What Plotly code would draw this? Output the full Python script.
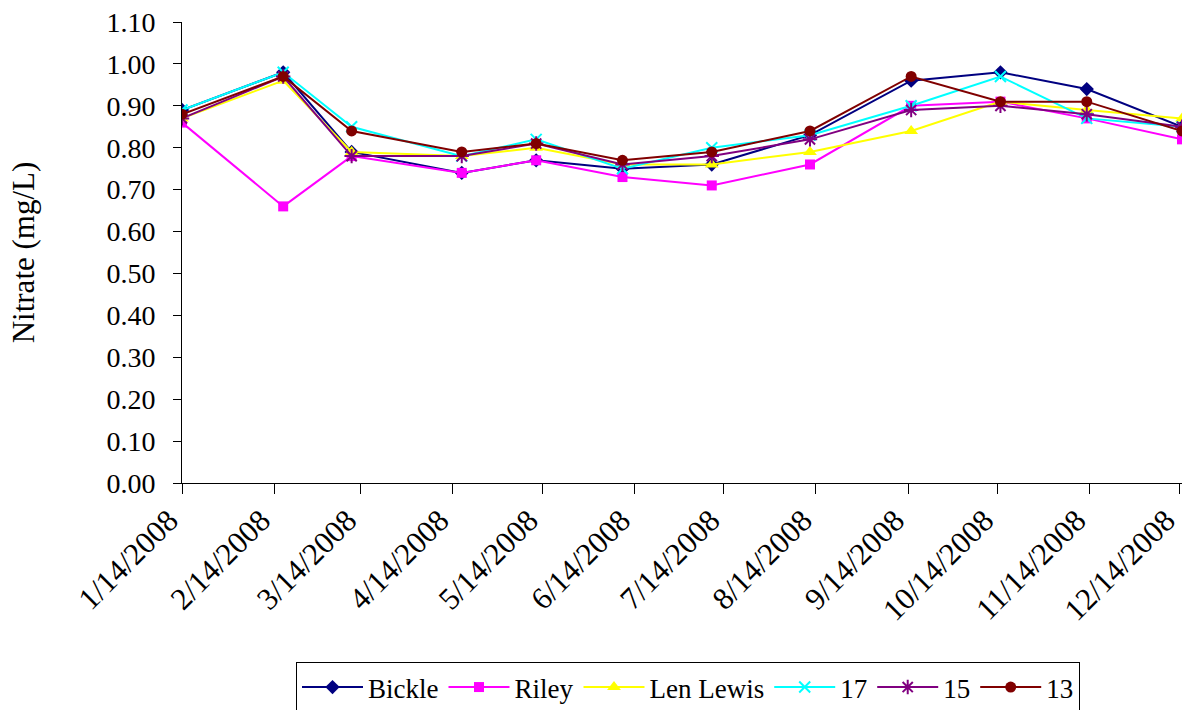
import plotly.graph_objects as go

# Sampling dates (2008) and nitrate concentrations (mg/L) per site
dates = ["2008-01-14", "2008-02-17", "2008-03-11", "2008-04-17", "2008-05-12", "2008-06-10",
         "2008-07-10", "2008-08-12", "2008-09-15", "2008-10-15", "2008-11-13", "2008-12-15"]

bickle    = [0.89, 0.98, 0.79, 0.74, 0.77, 0.75, 0.76, 0.83, 0.96, 0.98, 0.94, 0.85]
riley     = [0.86, 0.66, 0.78, 0.74, 0.77, 0.73, 0.71, 0.76, 0.90, 0.91, 0.87, 0.82]
len_lewis = [0.87, 0.96, 0.79, 0.78, 0.80, 0.76, 0.76, 0.79, 0.84, 0.91, 0.89, 0.87]
site_17   = [0.89, 0.98, 0.85, 0.78, 0.82, 0.75, 0.80, 0.83, 0.90, 0.97, 0.87, 0.85]
site_15   = [0.87, 0.97, 0.78, 0.78, 0.81, 0.76, 0.78, 0.82, 0.89, 0.90, 0.88, 0.85]
site_13   = [0.88, 0.97, 0.84, 0.79, 0.81, 0.77, 0.79, 0.84, 0.97, 0.91, 0.91, 0.84]

tick_dates = ["2008-01-14", "2008-02-14", "2008-03-14", "2008-04-14", "2008-05-14", "2008-06-14",
              "2008-07-14", "2008-08-14", "2008-09-14", "2008-10-14", "2008-11-14", "2008-12-14"]
tick_labels = ["1/14/2008", "2/14/2008", "3/14/2008", "4/14/2008", "5/14/2008", "6/14/2008",
               "7/14/2008", "8/14/2008", "9/14/2008", "10/14/2008", "11/14/2008", "12/14/2008"]

FONT = "Liberation Serif, Times New Roman, serif"

series = [
    ("Bickle", bickle, "#000080", dict(symbol="diamond", size=11, color="#000080")),
    ("Riley", riley, "#FF00FF", dict(symbol="square", size=10, color="#FF00FF")),
    ("Len Lewis", len_lewis, "#FFFF00", dict(symbol="triangle-up", size=12, color="#FFFF00")),
    ("17", site_17, "#00FFFF", dict(symbol="x-thin-open", size=11, color="#00FFFF",
                                     line=dict(color="#00FFFF", width=2))),
    ("15", site_15, "#800080", dict(symbol="asterisk-open", size=12, color="#800080",
                                     line=dict(color="#800080", width=2))),
    ("13", site_13, "#800000", dict(symbol="circle", size=11, color="#800000")),
]

fig = go.Figure()
for name, vals, color, marker in series:
    fig.add_trace(go.Scatter(
        x=dates, y=vals, name=name, mode="lines+markers",
        line=dict(color=color, width=2), marker=marker,
    ))

fig.update_layout(
    width=1191, height=710,
    margin=dict(l=182, r=9, t=22, b=227, autoexpand=False),
    paper_bgcolor="white", plot_bgcolor="white",
    font=dict(family=FONT, size=27, color="black"),
    showlegend=True,
    legend=dict(
        orientation="h", xref="container", yref="container",
        x=296 / 1191, y=(710 - 662) / 710, xanchor="left", yanchor="top",
        bordercolor="black", borderwidth=1, itemwidth=61,
        font=dict(family=FONT, size=27, color="black"),
        tracegroupgap=0,
    ),
    xaxis=dict(
        type="date", range=["2008-01-14", "2008-12-15"],
        tickmode="array", tickvals=tick_dates, ticktext=tick_labels,
        tickangle=-45, ticks="outside", ticklen=10, tickcolor="black",
        ticklabelstandoff=-4, ticklabelshift=-13, ticklabeloverflow="allow",
        showline=True, linecolor="black", linewidth=1,
        showgrid=False, zeroline=False,
        tickfont=dict(family=FONT, size=31, color="black"),
    ),
    yaxis=dict(
        range=[0, 1.1], dtick=0.1, tick0=0, tickformat=".2f",
        ticks="outside", ticklen=8, tickcolor="black",
        ticklabelstandoff=12,
        showline=True, linecolor="black", linewidth=1,
        showgrid=False, zeroline=False,
        tickfont=dict(family=FONT, size=28, color="black"),
        title=dict(text="Nitrate (mg/L)", font=dict(family=FONT, size=31, color="black"),
                   standoff=62),
    ),
)

fig.write_html("out.html")
